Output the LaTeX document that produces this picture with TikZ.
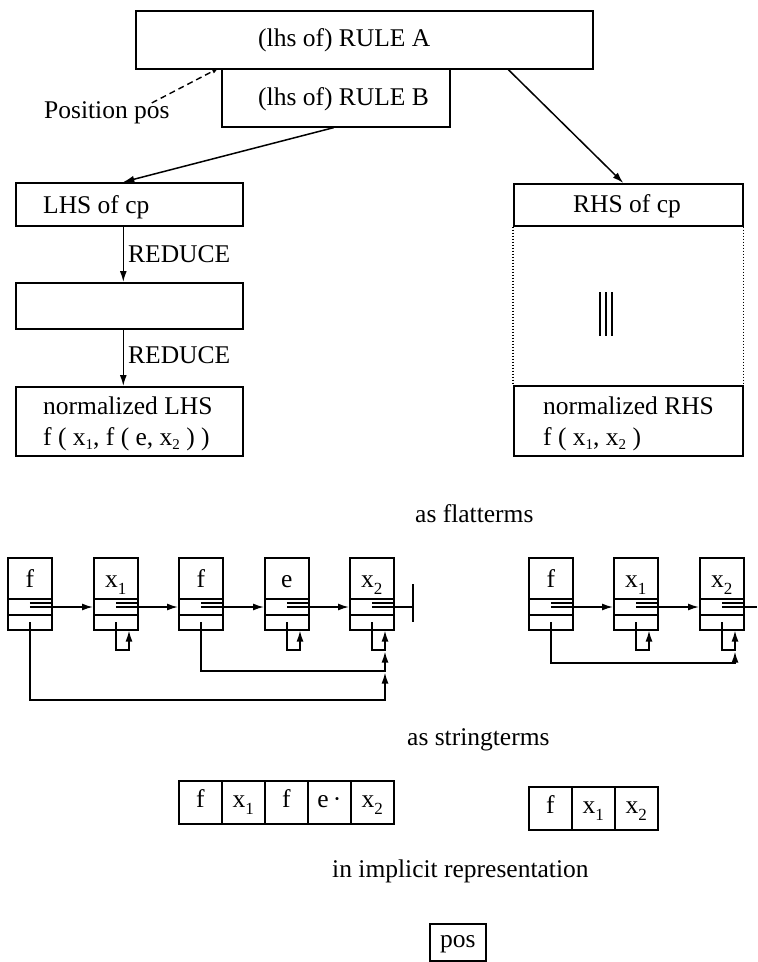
\documentclass[tikz,border=0pt]{standalone}
\usepackage{fontspec}
\setmainfont{Liberation Serif}
\usetikzlibrary{calc,arrows.meta}
\newcommand{\lsub}[1]{\raisebox{-7pt}{\fontsize{17}{17}\selectfont #1}}
\newcommand{\fsub}[1]{\raisebox{-4pt}{\fontsize{15}{15}\selectfont #1}}
\begin{document}
\begin{tikzpicture}[x=1pt,y=-1pt,
  every node/.style={font=\fontsize{25.5}{30}\selectfont, inner sep=0pt},
  box/.style={draw, line width=1.6pt, rectangle, inner sep=0pt, anchor=north west},
  cell/.style={box, minimum width=44pt, minimum height=72pt},
  sbox/.style={box, minimum width=43pt, minimum height=43pt},
  txt/.style={anchor=base west},
  ln/.style={line width=1.5pt},
  arr/.style={-{Latex[length=11pt,width=7pt]}, line width=1.5pt},
  dots/.style={line width=1.4pt, dash pattern=on 1.4pt off 1.6pt}]
\useasboundingbox (0,0) rectangle (758,962);

% top rules
\node[box, minimum width=457pt, minimum height=58pt] (ruleA) at (135,10) {};
\node[box, minimum width=228pt, minimum height=58pt] (ruleB) at (221,68) {};
\node[txt] (tA) at (258,46) {(lhs of) RULE A};
\node[txt] (tB) at (258,105) {(lhs of) RULE B};
\node[txt] (posl) at (44,118) {Position pos};
\draw[line width=1.4pt, dash pattern=on 6pt off 4pt, -{Latex[length=7pt,width=5pt]}] ($(posl.north east)+(-18,2)$) -- ($(ruleB.north west)+(-2,0)$);

% left column
\node[box, minimum width=227pt, minimum height=43pt] (lhs) at (15,182) {};
\node[box, minimum width=227pt, minimum height=46pt] (mid) at (15,282) {};
\node[box, minimum width=227pt, minimum height=69pt] (nlhs) at (15,386) {};
\node[txt] (tL) at (43,213) {LHS of cp};
\node[txt] (red1) at (128,262) {REDUCE};
\node[txt] (red2) at (128,363) {REDUCE};
\node[txt] (nL) at (43,414) {normalized LHS};
\node[txt] (fL) at (43,445) {f ( x\fsub{1}, f ( e, x\fsub{2} ) )};

% right column
\node[box, minimum width=229pt, minimum height=42pt] (rhs) at (513,183) {};
\node[box, minimum width=229pt, minimum height=70pt] (nrhs) at (513,385) {};
\node[txt] (tR) at (573,212) {RHS of cp};
\node[txt] (nR) at (543,414) {normalized RHS};
\node[txt] (fR) at (543,445) {f ( x\fsub{1}, x\fsub{2} )};
\draw[dots] (rhs.south west) -- (nrhs.north west);
\draw[dots] (rhs.south east) -- (nrhs.north east);
\draw[line width=1.3pt] (600,292) -- (600,336) (606,292) -- (606,336) (612,292) -- (612,336);

% connectors
\draw[arr] ($(ruleB.south)+(-2,0)$) -- ($(lhs.north)+(-6,0)$);
\draw[arr] ($(ruleA.south)+(144,0)$) -- ($(rhs.north)+(-5,0)$);
\draw[arr] ($(lhs.south)+(-6,0)$) -- ($(mid.north)+(-6,0)$);
\draw[arr] ($(mid.south)+(-6,0)$) -- ($(nlhs.north)+(-6,0)$);

% flatterms
\node[txt] (flat) at (415,522) {as flatterms};
\foreach \n/\x/\lab in {L1/7/f, L2/93/{x\lsub{1}}, L3/178/f, L4/264/e, L5/349/{x\lsub{2}}, R1/528/f, R2/613/{x\lsub{1}}, R3/699/{x\lsub{2}}}{
  \node[cell] (\n) at (\x,557) {};
  \node[anchor=base] (\n-l) at ($(\n.north)+(0,30)$) {\lab};
  \draw[ln] ($(\n.north west)+(0,42)$) -- ($(\n.north east)+(0,42)$);
  \draw[ln] ($(\n.north west)+(0,58)$) -- ($(\n.north east)+(0,58)$);
  \draw[line width=1.2pt] ($(\n.north)+(0,46)$) -- ($(\n.north east)+(0,46)$);
}
\foreach \a/\b in {L1/L2, L2/L3, L3/L4, L4/L5, R1/R2, R2/R3}{
  \draw[arr] ($(\a.north)+(0,50)$) -- ($(\b.north west)+(0,50)$);
}
\coordinate (endL) at (413,607);
\coordinate (endR) at (757,607);
\draw[ln] ($(L5.north)+(0,50)$) -- (endL);
\draw[ln] ($(endL)+(0,-23)$) -- ($(endL)+(0,15)$);
\draw[ln] ($(R3.north)+(0,50)$) -- (endR);
\foreach \n in {L2,L4,L5,R2,R3}{
  \draw[arr] ($(\n.north)+(0,65)$) -- ($(\n.north)+(0,93)$) -| ($(\n.south west)+(36,0)$);
}
\draw[arr] ($(L3.north)+(0,65)$) -- ($(L3.north)+(0,114)$) -| ($(L5.south west)+(36,21)$);
\draw[arr] ($(L1.north)+(0,65)$) -- ($(L1.north)+(0,143)$) -| ($(L5.south west)+(36,42)$);
\draw[arr] ($(R1.north)+(0,65)$) -- ($(R1.north)+(0,106)$) -| ($(R3.south west)+(36,21)$);

% stringterms
\node[txt] (strl) at (407,745) {as stringterms};
\foreach \n/\x/\lab in {S1/178/f, S2/221/{x\lsub{1}}, S3/264/f, S4/307/{e\,·}, S5/350/{x\lsub{2}}}{
  \node[sbox] (\n) at (\x,780) {};
  \node[anchor=base] (\n-l) at ($(\n.north)+(0,27)$) {\lab};
}
\foreach \n/\x/\lab in {T1/528/f, T2/571/{x\lsub{1}}, T3/614/{x\lsub{2}}}{
  \node[sbox] (\n) at (\x,786) {};
  \node[anchor=base] (\n-l) at ($(\n.north)+(0,27)$) {\lab};
}

% implicit
\node[txt] (impl) at (332,877) {in implicit representation};
\node[box, minimum width=56pt, minimum height=37pt] (posbox) at (429,923) {};
\node[anchor=base] (posw) at ($(posbox.north)+(0,24)$) {pos};
\end{tikzpicture}
\end{document}
